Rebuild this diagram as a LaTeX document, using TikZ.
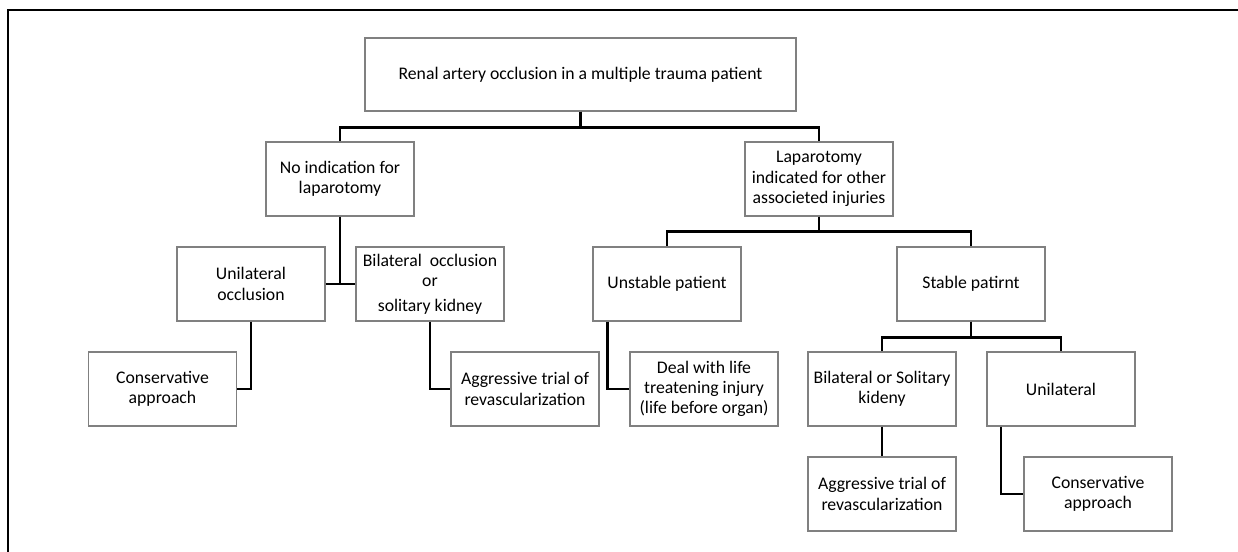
\documentclass[tikz,border=0pt]{standalone}
\usepackage{fontspec}
\setmainfont{Carlito}
\usetikzlibrary{positioning}

\begin{document}
\begin{tikzpicture}[x=0.25mm, y=-0.25mm,
  box/.style={draw=black!50, line width=0.8pt, align=center,
    minimum width=37mm, minimum height=18.5mm, inner sep=2pt,
    font=\fontsize{12.6}{14.4}\selectfont},
  link/.style={line width=1.8pt, black}]
\useasboundingbox (0,0) rectangle (1238,552);
% Frame
\draw[line width=1.6pt] (8,552) -- (8,10) -- (1238,10);
% Top
\node[box, minimum width=107.75mm, minimum height=18.25mm] (root) at (580.5,74.5)
  {Renal artery occlusion in a multiple trauma patient};
\node[box] (noind) at (340,179) {No indication for\\laparotomy};
\node[box] (lapar) at (819,179)
  {Laparotomy\\indicated for other\\associeted injuries};
% Left branch
\node[box] (unioccl) at (251,284) {Unilateral\\occlusion};
\node[box] (biloccl) at (430,284)
  {Bilateral\ \ occlusion\\or\\[3pt]solitary kidney};
\node[box] (consleft) at (162.5,389) {Conservative\\approach};
\node[box] (aggleft) at (525,389) {Aggressive trial of\\revascularization};
% Right branch
\node[box] (unstable) at (667,284) {Unstable patient};
\node[box] (stable) at (971,284) {Stable patirnt};
\node[box] (deal) at (704,389)
  {Deal with life\\treatening injury\\(life before organ)};
\node[box] (bilsol) at (882,389) {Bilateral or Solitary\\kideny};
\node[box] (unilat) at (1061,389) {Unilateral};
\node[box] (aggright) at (882,494) {Aggressive trial of\\revascularization};
\node[box] (consright) at (1098,494) {Conservative\\approach};
% Connectors
\draw[link] (root.south) -- ++(0,16) -| (noind.north);
\draw[link] (root.south) -- ++(0,16) -| (lapar.north);
\draw[link] (noind.south) -- (noind.south |- unioccl.east);
\draw[link] (unioccl.east) -- (biloccl.west);
\draw[link] (unioccl.south) |- (consleft.east);
\draw[link] (biloccl.south) |- (aggleft.west);
\draw[link] (lapar.south) -- ++(0,15) -| (unstable.north);
\draw[link] (lapar.south) -- ++(0,15) -| (stable.north);
\draw[link] ([xshift=3.75mm]unstable.south west) |- (deal.west);
\draw[link] (stable.south) -- ++(0,16) -| (bilsol.north);
\draw[link] (stable.south) -- ++(0,16) -| (unilat.north);
\draw[link] (bilsol.south) -- (aggright.north);
\draw[link] ([xshift=3.6mm]unilat.south west) |- (consright.west);
\end{tikzpicture}
\end{document}
